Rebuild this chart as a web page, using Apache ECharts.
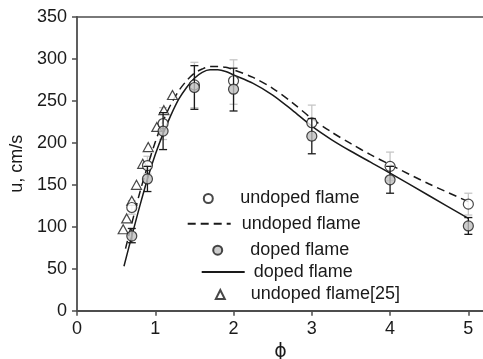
<!DOCTYPE html>
<html>
<head>
<meta charset="utf-8">
<script src="https://cdn.jsdelivr.net/npm/echarts@6/dist/echarts.min.js"></script>
<style>
  html, body { margin: 0; padding: 0; background: #fff; }
  #chart { width: 483px; height: 359px; }
</style>
</head>
<body>
<div id="chart"></div>
<script>
// measured points (phi = equivalence ratio)
const phiExp = [0.7, 0.9, 1.1, 1.5, 2, 3, 4, 5];
const undopedExp = [123, 173, 223, 269, 274, 224, 172, 127];
const undopedLow = [115, 163, 204, 242, 246, 203, 155, 114];
const undopedHigh = [131, 184, 242, 296, 299, 245, 189, 140];
const dopedExp = [89, 157, 214, 266, 264, 208, 156, 101];
const dopedLow = [81, 142, 192, 240, 238, 187, 140, 91];
const dopedHigh = [98, 172, 236, 292, 289, 229, 172, 111];

// literature data [25]
const phiRef = [0.59, 0.635, 0.70, 0.76, 0.84, 0.91, 1.02, 1.11, 1.22];
const uRef = [97, 110, 131, 150, 175, 195, 219, 239, 257];

// model curves
const phiUndopedModel = [0.62, 0.7, 0.8, 0.9, 1.0, 1.1, 1.2, 1.3, 1.4, 1.5, 1.6, 1.7, 1.8, 1.9, 2.0, 2.25, 2.5, 2.75, 3.0, 3.25, 3.5, 3.75, 4.0, 4.5, 5.0];
const uUndopedModel = [74, 104, 140, 172, 201, 226, 246, 262, 274, 283, 288, 291, 291, 290, 287, 278, 265, 248, 229, 213, 199, 186, 174, 151, 130];
const phiDopedModel = [0.6, 0.7, 0.8, 0.9, 1.0, 1.1, 1.2, 1.3, 1.4, 1.5, 1.6, 1.7, 1.8, 1.9, 2.0, 2.25, 2.5, 2.75, 3.0, 3.25, 3.5, 3.75, 4.0, 4.5, 5.0];
const uDopedModel = [53, 89, 124, 157, 186, 211, 233, 252, 266, 277, 284, 287, 287, 285, 281, 271, 257, 239, 220, 204, 190, 177, 164, 137, 110];

const xTicks = [0, 1, 2, 3, 4, 5];
const yTicks = [0, 50, 100, 150, 200, 250, 300, 350];

const legendText = {
  undopedExp: 'undoped flame',
  undopedModel: 'undoped flame',
  dopedExp: 'doped flame',
  dopedModel: 'doped flame',
  ref: 'undoped flame[25]'
};

const FONT = "'Liberation Sans', Arial, sans-serif";
const AXIS_COLOR = '#4d4d4d';

const zip = (xs, ys) => xs.map((x, i) => [x, ys[i]]);

function errorBars(color) {
  return function (params, api) {
    const x = api.value(0);
    const lo = api.coord([x, api.value(1)]);
    const hi = api.coord([x, api.value(2)]);
    const half = 4;
    const style = { stroke: color, lineWidth: 1.3 };
    return {
      type: 'group',
      children: [
        { type: 'line', shape: { x1: lo[0], y1: lo[1], x2: hi[0], y2: hi[1] }, style },
        { type: 'line', shape: { x1: lo[0] - half, y1: lo[1], x2: lo[0] + half, y2: lo[1] }, style },
        { type: 'line', shape: { x1: hi[0] - half, y1: hi[1], x2: hi[0] + half, y2: hi[1] }, style }
      ]
    };
  };
}

const chart = echarts.init(document.getElementById('chart'), null, { renderer: 'canvas' });

function legendFor(name, left, top, w, h, pad, hideSymbol) {
  const lg = {
    data: [name],
    left: left,
    top: top,
    padding: 0,
    itemWidth: w,
    itemHeight: h,
    selectedMode: false,
    formatter: (n) => legendText[n],
    textStyle: { fontFamily: FONT, fontSize: 18, color: '#1a1a1a', padding: [0, 0, 0, pad] }
  };
  if (hideSymbol) lg.itemStyle = { opacity: 0 };
  return lg;
}

const option = {
  backgroundColor: '#fff',
  animation: false,
  textStyle: { fontFamily: FONT },
  grid: { left: 77, top: 17, width: 407, height: 293.7, outerBoundsMode: 'none', containLabel: false },
  legend: [
    legendFor('undopedExp', 202.8, 189.5, 9, 9, 22.5, false),
    legendFor('undopedModel', 186.7, 214.7, 43, 14, 6, true),
    legendFor('dopedExp', 212.2, 241.2, 9, 9, 23, false),
    legendFor('dopedModel', 200.7, 263, 43, 14, 4, true),
    legendFor('ref', 214.8, 285.5, 9, 9, 21, false)
  ],
  xAxis: [
    {
      type: 'value',
      min: 0,
      max: 5.2,
      interval: 1,
      name: 'ϕ',
      nameLocation: 'middle',
      nameGap: 31,
      nameTextStyle: { fontFamily: "'DejaVu Sans', sans-serif", fontSize: 19, color: '#1a1a1a' },
      axisLine: { onZero: false, lineStyle: { color: AXIS_COLOR, width: 1.8 } },
      axisTick: { show: true, length: 5, lineStyle: { color: AXIS_COLOR, width: 1.5 } },
      axisLabel: {
        margin: 9,
        fontFamily: FONT,
        fontSize: 18,
        color: '#1a1a1a',
        showMaxLabel: false,
        formatter: (v) => (xTicks.includes(v) ? String(v) : '')
      },
      splitLine: { show: false }
    },
    {
      type: 'value',
      position: 'top',
      min: 0,
      max: 5.2,
      axisLine: { onZero: false, lineStyle: { color: AXIS_COLOR, width: 1.5 } },
      axisTick: { show: false },
      axisLabel: { show: false },
      splitLine: { show: false }
    }
  ],
  yAxis: {
    type: 'value',
    min: 0,
    max: 350,
    interval: 50,
    name: 'u, cm/s',
    nameLocation: 'middle',
    nameGap: 50,
    nameTextStyle: { fontFamily: FONT, fontSize: 18, color: '#1a1a1a' },
    axisLine: { show: true, onZero: false, lineStyle: { color: AXIS_COLOR, width: 1.8 } },
    axisTick: { show: true, length: 5, lineStyle: { color: AXIS_COLOR, width: 1.5 } },
    axisLabel: {
      margin: 10,
      fontFamily: FONT,
      fontSize: 18,
      color: '#1a1a1a',
      formatter: (v) => (yTicks.includes(v) ? String(v) : '')
    },
    splitLine: { show: false }
  },
  series: [
    {
      name: 'undopedErr',
      type: 'custom',
      renderItem: errorBars('#c6c6c6'),
      data: phiExp.map((p, i) => [p, undopedLow[i], undopedHigh[i]]),
      z: 1
    },
    {
      name: 'undopedModel',
      type: 'line',
      data: zip(phiUndopedModel, uUndopedModel),
      smooth: 0.3,
      symbol: 'none',
      lineStyle: { color: '#1a1a1a', width: 1.5, type: [8, 5] },
      itemStyle: { color: '#1a1a1a' },
      z: 2
    },
    {
      name: 'dopedModel',
      type: 'line',
      data: zip(phiDopedModel, uDopedModel),
      smooth: 0.3,
      symbol: 'none',
      lineStyle: { color: '#1a1a1a', width: 1.5 },
      itemStyle: { color: '#1a1a1a' },
      z: 2
    },
    {
      name: 'ref',
      type: 'scatter',
      data: zip(phiRef, uRef),
      symbol: 'triangle',
      symbolSize: [10, 9],
      itemStyle: { color: '#fff', borderColor: '#1a1a1a', borderWidth: 1.2 },
      z: 3
    },
    {
      name: 'undopedExp',
      type: 'scatter',
      data: zip(phiExp, undopedExp),
      symbol: 'circle',
      symbolSize: 10,
      itemStyle: { color: '#fff', borderColor: '#1a1a1a', borderWidth: 1.2 },
      z: 4
    },
    {
      name: 'dopedErr',
      type: 'custom',
      renderItem: errorBars('#1a1a1a'),
      data: phiExp.map((p, i) => [p, dopedLow[i], dopedHigh[i]]),
      z: 5
    },
    {
      name: 'dopedExp',
      type: 'scatter',
      data: zip(phiExp, dopedExp),
      symbol: 'circle',
      symbolSize: 10,
      itemStyle: { color: '#bfbfbf', borderColor: '#1a1a1a', borderWidth: 1.2 },
      z: 6
    }
  ]
};

chart.setOption(option);
</script>
</body>
</html>
